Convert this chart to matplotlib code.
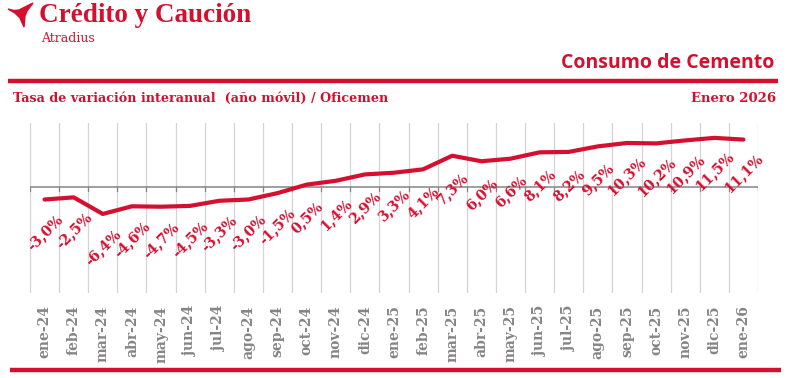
import numpy as np
import matplotlib
matplotlib.use('Agg')
import matplotlib.pyplot as plt
from matplotlib.lines import Line2D
from matplotlib.patches import Polygon

# datos
months = ['ene-24', 'feb-24', 'mar-24', 'abr-24', 'may-24', 'jun-24', 'jul-24',
          'ago-24', 'sep-24', 'oct-24', 'nov-24', 'dic-24', 'ene-25', 'feb-25',
          'mar-25', 'abr-25', 'may-25', 'jun-25', 'jul-25', 'ago-25', 'sep-25',
          'oct-25', 'nov-25', 'dic-25', 'ene-26']
values = [-3.0, -2.5, -6.4, -4.6, -4.7, -4.5, -3.3, -3.0, -1.5, 0.5, 1.4, 2.9,
          3.3, 4.1, 7.3, 6.0, 6.6, 8.1, 8.2, 9.5, 10.3, 10.2, 10.9, 11.5, 11.1]

RED = '#D50F30'
GREY = '#858585'
W, H = 791, 378

fig = plt.figure(figsize=(W / 100, H / 100), dpi=100)
fig.patch.set_facecolor('white')


def px(x, y):  # pixel -> coords de figura
    return x / W, 1 - y / H


# logo
logo = [(8, 9), (14, 10.5), (19, 10), (33, 3), (27, 11), (25, 16), (24, 27),
        (20, 18), (15, 13)]
fig.add_artist(Polygon([px(*p) for p in logo], closed=True, color=RED,
                       transform=fig.transFigure))
fig.text(*px(39, 16), 'Crédito y Caución', color=RED, fontsize=19.5,
         fontweight='bold', family='Liberation Serif', va='center', ha='left')
fig.text(*px(41, 38), 'Atradius', color=RED, fontsize=9,
         family='DejaVu Serif', va='center', ha='left')

fig.text(*px(774, 63), 'Consumo de Cemento', color=RED, fontsize=14,
         fontweight='bold', family='Open Sans', va='center', ha='right')

# barras rojas
for y, x0, x1 in [(81, 8, 778), (370, 10, 781)]:
    fig.add_artist(Line2D([x0 / W, x1 / W], [1 - y / H, 1 - y / H], color=RED,
                          lw=3.2, transform=fig.transFigure, solid_capstyle='butt'))

fig.text(*px(13, 98), 'Tasa de variación interanual  (año móvil) / Oficemen',
         color=RED, fontsize=9.2, fontweight='bold', family='DejaVu Serif',
         va='center', ha='left')
fig.text(*px(776, 98), 'Enero 2026', color=RED, fontsize=9.5,
         fontweight='bold', family='DejaVu Serif', va='center', ha='right')

# grafico
ax = fig.add_axes([30 / W, 85 / H, 728 / W, 170 / H])
x = np.arange(len(months))
ax.set_xlim(-0.5, len(months) - 0.5)
ax.set_ylim(-25, 15)
for b in np.arange(len(months) + 1) - 0.5:
    ax.axvline(b, color='#d4d4d4', lw=0.9, zorder=0)
    ax.plot([b, b], [0, -1.0], color=GREY, lw=0.9, zorder=1)
ax.axhline(0, color=GREY, lw=1.1, zorder=1)

ax.plot(x, values, color=RED, lw=3, solid_capstyle='round', zorder=3)

for xi, v in zip(x, values):
    lab = '{:.1f}%'.format(v).replace('.', ',')
    ax.annotate(lab, xy=(xi, v), xytext=(0, -24), textcoords='offset points',
                ha='center', va='center', rotation=45, color=RED,
                fontsize=10.3, fontweight='bold', family='DejaVu Serif', zorder=4)

ax.set_xticks(x)
ax.set_xticklabels(months, rotation=90, color=GREY, fontsize=10,
                   family='DejaVu Serif', fontweight='bold')
ax.tick_params(axis='x', length=0, pad=9)
ax.set_yticks([])
for s in ax.spines.values():
    s.set_visible(False)

fig.savefig('out.png', dpi=100)
